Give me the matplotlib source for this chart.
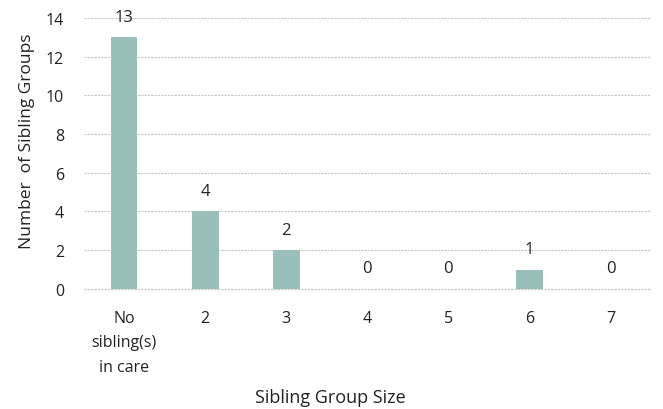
import numpy as np
import matplotlib.pyplot as plt

categories = ["No\nsibling(s)\nin care", "2", "3", "4", "5", "6", "7"]
counts = [13, 4, 2, 0, 0, 1, 0]
yticks = [0, 2, 4, 6, 8, 10, 12, 14]

plt.rcParams['font.family'] = ['Open Sans', 'DejaVu Sans']

fig = plt.figure(figsize=(6.63, 4.10), dpi=100)
ax = fig.add_axes([0.126, 0.293, 0.856, 0.661])

x = np.arange(len(categories))
ax.bar(x, counts, width=0.33, color='#98bfba', zorder=3)

for xi, v in zip(x, counts):
    ax.annotate(str(v), (xi, v), xytext=(0, 9), textcoords='offset points',
                ha='center', va='bottom', fontsize=12, color='#222222')

ax.set_xlim(-0.5, len(categories) - 0.5)
ax.set_ylim(0, 14)
ax.set_yticks(yticks)
ax.set_xticks(x)
ax.set_xticklabels(categories, fontsize=11.5, color='#222222', linespacing=1.7)
ax.tick_params(axis='y', labelsize=11.5, colors='#222222', length=0, pad=14)
ax.tick_params(axis='x', length=0, pad=15)

ax.yaxis.grid(True, color='#c4c4c4', linestyle=(0, (2, 1)), linewidth=0.8, zorder=0)
ax.axhline(0, color='#c4c4c4', linestyle=(0, (2, 1)), linewidth=0.8, zorder=1, clip_on=False)
for s in ax.spines.values():
    s.set_visible(False)

ax.set_xlabel("Sibling Group Size", fontsize=13, color='#222222')
ax.xaxis.set_label_coords(0.435, -0.365)
ax.set_ylabel("Number  of Sibling Groups", fontsize=12.5, color='#222222', labelpad=8, y=0.55)

fig.savefig("out.png", dpi=100)
